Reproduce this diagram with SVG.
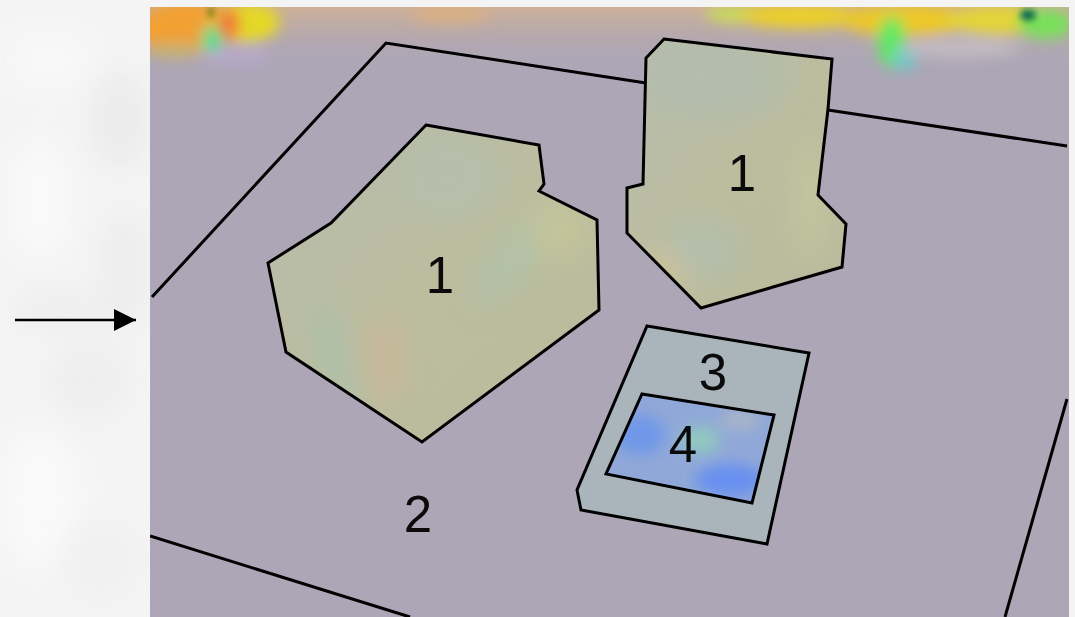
<svg xmlns="http://www.w3.org/2000/svg" width="1075" height="617" viewBox="0 0 1075 617">
<defs>
<style>
.edge{fill:none;stroke:#000;stroke-width:3;stroke-linejoin:miter;stroke-linecap:butt}
.lbl{font-family:"Liberation Sans",Arial,sans-serif;font-size:51px;fill:#0a0a0a;text-anchor:middle}
</style>
<filter id="b8" x="-50%" y="-50%" width="200%" height="200%"><feGaussianBlur stdDeviation="7"/></filter>
<filter id="b4" x="-50%" y="-50%" width="200%" height="200%"><feGaussianBlur stdDeviation="3"/></filter>
<filter id="b14" x="-50%" y="-50%" width="200%" height="200%"><feGaussianBlur stdDeviation="14"/></filter>
<linearGradient id="topfade" x1="0" y1="0" x2="0" y2="1">
<stop offset="0" stop-color="#d0b096" stop-opacity="0.95"/>
<stop offset="1" stop-color="#aca6b6" stop-opacity="0"/>
</linearGradient>
<linearGradient id="bld" x1="0" y1="0" x2="1" y2="1">
<stop offset="0" stop-color="#b6bdae"/>
<stop offset="0.5" stop-color="#bcbd9f"/>
<stop offset="1" stop-color="#b9bb9d"/>
</linearGradient>
<clipPath id="cpL"><polygon points="426,125 539,145 544,184 539,191 597,220 599,310 422,442 286,352 268,263 331,223"/></clipPath>
<clipPath id="cpR"><polygon points="664,39 832,59 828,109 818,195 846,224 842,267 701,308 627,233 627,188 643,184 646,58"/></clipPath>
<clipPath id="cp4"><polygon points="642,394 774,415 752,503 606,474"/></clipPath>
<clipPath id="cpPhoto"><rect x="150" y="7" width="919" height="610"/></clipPath>
<marker id="ah" markerWidth="22" markerHeight="22" refX="22" refY="11" orient="auto" markerUnits="userSpaceOnUse">
<polygon points="0,0 22,11 0,22" fill="#000"/>
</marker>
</defs>

<!-- page background with faint pattern -->
<rect x="0" y="0" width="1075" height="617" fill="#f4f4f4"/>
<g filter="url(#b14)" opacity="0.6">
<ellipse cx="120" cy="120" rx="30" ry="50" fill="#e6e6e6"/>
<ellipse cx="125" cy="270" rx="25" ry="60" fill="#e8e8e8"/>
<ellipse cx="60" cy="310" rx="50" ry="20" fill="#eaeaea"/>
<ellipse cx="90" cy="380" rx="40" ry="40" fill="#eaeaea"/>
<ellipse cx="50" cy="60" rx="40" ry="30" fill="#fbfbfb"/>
<ellipse cx="40" cy="200" rx="30" ry="60" fill="#fdfdfd"/>
<ellipse cx="40" cy="500" rx="40" ry="70" fill="#fdfdfd"/>
<ellipse cx="100" cy="560" rx="40" ry="40" fill="#eeeeee"/>
</g>

<!-- photo area -->
<g id="photo" clip-path="url(#cpPhoto)">
<rect x="150" y="7" width="919" height="610" fill="#aca6b6"/>
<rect x="150" y="7" width="919" height="65" fill="url(#topfade)"/>
<g filter="url(#b8)">
<ellipse cx="185" cy="28" rx="45" ry="28" fill="#f2a030"/>
<ellipse cx="245" cy="22" rx="35" ry="20" fill="#e4d828"/>
<ellipse cx="228" cy="24" rx="12" ry="16" fill="#f27838"/>
<ellipse cx="212" cy="40" rx="10" ry="14" fill="#40e090"/>
<ellipse cx="175" cy="50" rx="28" ry="8" fill="#c8b070"/>
<ellipse cx="235" cy="56" rx="35" ry="8" fill="#b8a8cc"/>
<ellipse cx="450" cy="14" rx="40" ry="8" fill="#dcb080"/>
<ellipse cx="740" cy="14" rx="35" ry="8" fill="#c8e050"/>
<ellipse cx="800" cy="16" rx="60" ry="12" fill="#ecd028"/>
<ellipse cx="905" cy="20" rx="65" ry="16" fill="#ecc828"/>
<ellipse cx="892" cy="42" rx="14" ry="26" fill="#60e860"/>
<ellipse cx="905" cy="58" rx="12" ry="12" fill="#70c8c8"/>
<ellipse cx="1000" cy="20" rx="55" ry="15" fill="#e4d438"/>
<ellipse cx="1045" cy="24" rx="28" ry="15" fill="#78e058"/>
<ellipse cx="960" cy="48" rx="60" ry="9" fill="#c4bcc4"/>
</g>
<g filter="url(#b4)">
<ellipse cx="1028" cy="15" rx="8" ry="6" fill="#107050"/>
<ellipse cx="211" cy="12" rx="4" ry="6" fill="#908020"/>
</g>

<!-- boundary lines -->
<g id="connectors">
<polyline class="edge" points="152,297 386,43 646,83"/>
<line class="edge" x1="828" y1="110" x2="1067" y2="146"/>
<line class="edge" x1="150" y1="536" x2="410" y2="617"/>
<line class="edge" x1="1067" y1="399" x2="1005" y2="617"/>
</g>
</g>

<!-- arrow -->
<g id="arrow">
<line x1="15" y1="320" x2="136" y2="320" stroke="#000" stroke-width="2.5" marker-end="url(#ah)"/>
</g>

<!-- building 1 left -->
<g id="building-left">
<polygon points="426,125 539,145 544,184 539,191 597,220 599,310 422,442 286,352 268,263 331,223" fill="url(#bld)"/>
<g clip-path="url(#cpL)" filter="url(#b14)" opacity="0.5">
<ellipse cx="520" cy="250" rx="18" ry="70" transform="rotate(40 520 250)" fill="#a8c8b4"/>
<ellipse cx="335" cy="360" rx="14" ry="60" transform="rotate(-15 335 360)" fill="#9cc4b4"/>
<ellipse cx="385" cy="360" rx="20" ry="45" fill="#d4b494"/>
<ellipse cx="560" cy="230" rx="30" ry="30" fill="#cccc94"/>
<ellipse cx="450" cy="180" rx="50" ry="40" fill="#b4c0b4"/>
</g>
<polygon class="edge" points="426,125 539,145 544,184 539,191 597,220 599,310 422,442 286,352 268,263 331,223"/>
<text class="lbl" x="440" y="293">1</text>
</g>

<!-- building 1 right -->
<g id="building-right">
<polygon points="664,39 832,59 828,109 818,195 846,224 842,267 701,308 627,233 627,188 643,184 646,58" fill="url(#bld)"/>
<g clip-path="url(#cpR)" filter="url(#b14)" opacity="0.5">
<ellipse cx="720" cy="80" rx="70" ry="40" fill="#aebcb4"/>
<ellipse cx="700" cy="250" rx="40" ry="30" fill="#acc0b8"/>
<ellipse cx="660" cy="275" rx="25" ry="25" fill="#dcc494"/>
<ellipse cx="810" cy="200" rx="14" ry="60" fill="#cdd09c"/>
</g>
<polygon class="edge" points="664,39 832,59 828,109 818,195 846,224 842,267 701,308 627,233 627,188 643,184 646,58"/>
<text class="lbl" x="742" y="191">1</text>
</g>

<!-- area 2 label -->
<g id="area-2">
<text class="lbl" x="418" y="532">2</text>
</g>

<!-- box 3 -->
<g id="box-3">
<polygon points="647,326 809,353 767,544 581,510 577,490" fill="#a9b5bb"/>
<polygon class="edge" points="647,326 809,353 767,544 581,510 577,490"/>
<text class="lbl" x="713" y="390">3</text>
</g>

<!-- box 4 -->
<g id="box-4">
<polygon points="642,394 774,415 752,503 606,474" fill="#90a8d8"/>
<g clip-path="url(#cp4)" filter="url(#b8)">
<ellipse cx="640" cy="435" rx="25" ry="20" fill="#6f98e8"/>
<ellipse cx="730" cy="480" rx="35" ry="16" fill="#6890f0"/>
<ellipse cx="700" cy="440" rx="20" ry="14" fill="#90c8c0"/>
<ellipse cx="740" cy="420" rx="20" ry="10" fill="#a8b4c8"/>
</g>
<polygon class="edge" points="642,394 774,415 752,503 606,474"/>
<text class="lbl" x="683" y="462">4</text>
</g>
</svg>
